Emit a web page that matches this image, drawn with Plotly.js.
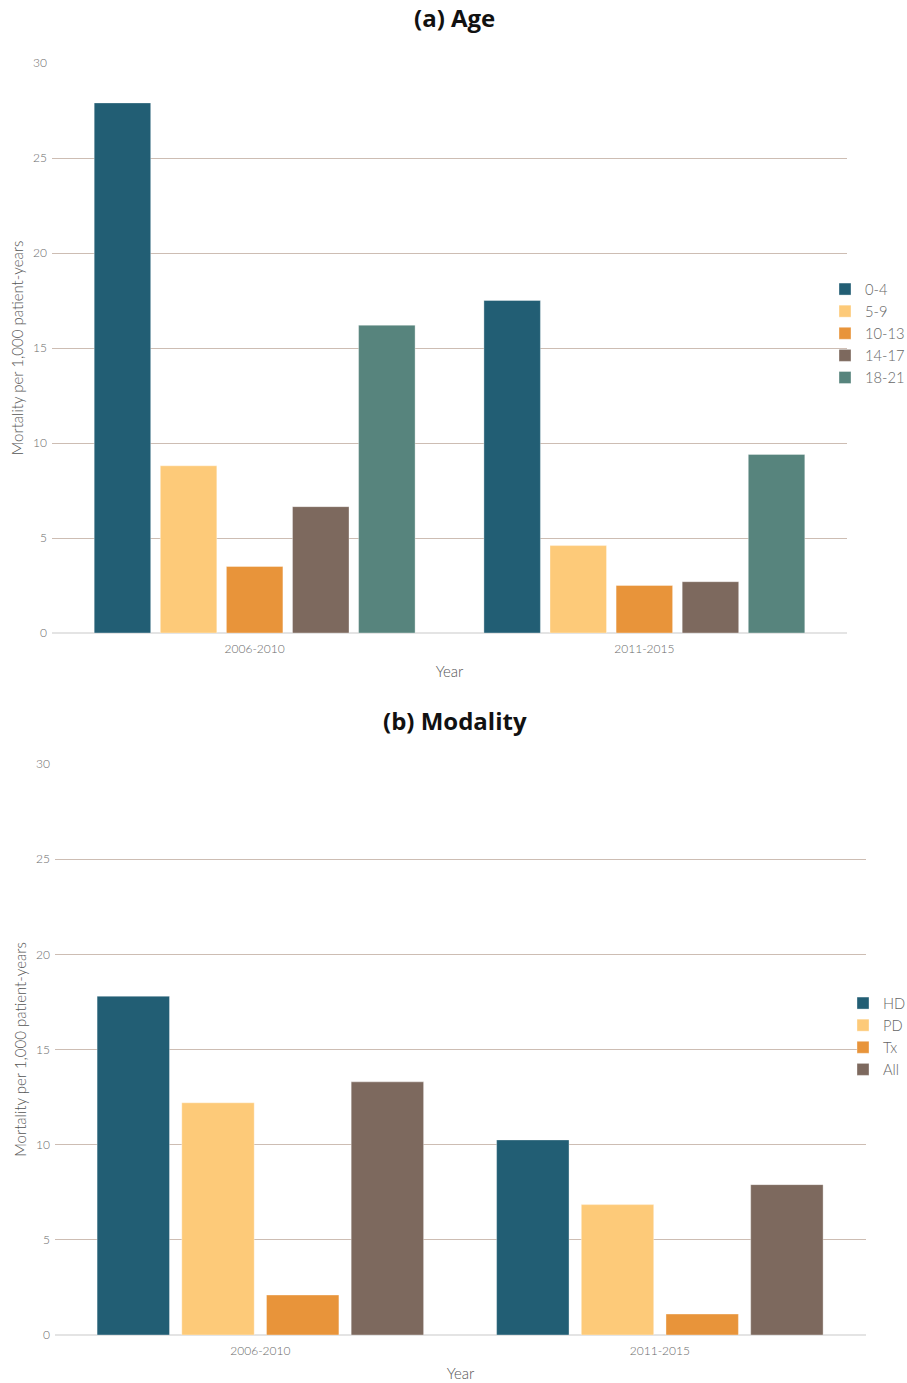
<!DOCTYPE html>
<html>
<head>
<meta charset="utf-8">
<script src="https://cdn.plot.ly/plotly-3.0.1.min.js"></script>
<style>html,body{margin:0;padding:0;background:#fff;}#chart{width:907px;height:1383px;}</style>
</head>
<body>
<div id="chart"></div>
<script>
// ---- data ----
const years = ["2006-2010", "2011-2015"];

const ageGroups = ["0-4", "5-9", "10-13", "14-17", "18-21"];
const age_0_4   = [27.9, 17.5];
const age_5_9   = [8.8, 4.6];
const age_10_13 = [3.5, 2.5];
const age_14_17 = [6.65, 2.7];
const age_18_21 = [16.2, 9.4];

const modalities = ["HD", "PD", "Tx", "All"];
const mod_HD  = [17.8, 10.25];
const mod_PD  = [12.2, 6.85];
const mod_Tx  = [2.1, 1.1];
const mod_All = [13.3, 7.9];

const titleA = "(a) Age";
const titleB = "(b) Modality";
const yTitle = "Mortality per 1,000 patient-years";
const xTitle = "Year";

// ---- styles ----
const colors = ["#225e74", "#fdca79", "#e8943a", "#7d695e", "#57847d"];
const H = 1383, W = 907;
const FAM = "Lato, 'Open Sans', sans-serif";
const tickFont = {family: FAM, size: 12, color: "#6a6a6a", weight: 300};
const axTitleFont = {family: FAM, size: 15, color: "#555", weight: 300};
const legFont = {family: FAM, size: 14.7, color: "#666", weight: 300};

const ageSeries = [age_0_4, age_5_9, age_10_13, age_14_17, age_18_21];
const modSeries = [mod_HD, mod_PD, mod_Tx, mod_All];

const traces = [];
ageGroups.forEach((name, i) => {
  traces.push({
    type: "bar", name: name, x: years, y: ageSeries[i],
    xaxis: "x", yaxis: "y", legend: "legend",
    marker: {color: colors[i], line: {color: "rgba(255,255,255,0.35)", width: 1}},
    hoverinfo: "x+y+name"
  });
});
modalities.forEach((name, i) => {
  traces.push({
    type: "bar", name: name, x: years, y: modSeries[i],
    xaxis: "x2", yaxis: "y2", legend: "legend2",
    marker: {color: colors[i], line: {color: "rgba(255,255,255,0.35)", width: 1}},
    hoverinfo: "x+y+name"
  });
});

function yAx(domain, anchor) {
  return {
    domain: domain, range: [0, 30], dtick: 5, tick0: 0, anchor: anchor,
    showgrid: true, gridcolor: "#cdbdb3", gridwidth: 1,
    zeroline: true, zerolinecolor: "#e4e4e4", zerolinewidth: 2,
    showline: false, ticks: "", tickfont: tickFont, ticklabelstandoff: 4,
    title: {text: yTitle, font: axTitleFont, standoff: 5},
    automargin: false, fixedrange: true
  };
}
function xAx(domain, range, anchor) {
  return {
    domain: domain, range: range, type: "category", anchor: anchor,
    showgrid: false, zeroline: false, showline: false, ticks: "",
    tickfont: tickFont, ticklabelstandoff: 7,
    title: {text: xTitle, font: axTitleFont, standoff: 11},
    automargin: false, fixedrange: true
  };
}

const layout = {
  width: W, height: H,
  margin: {l: 0, r: 0, t: 0, b: 0, autoexpand: false},
  paper_bgcolor: "#fff", plot_bgcolor: "#fff",
  font: {family: FAM, color: "#555"},
  barmode: "group", bargap: 0.152, bargroupgap: 0.145,
  showlegend: true,
  xaxis:  xAx([52 / W, 847 / W], [-0.52, 1.52], "y"),
  yaxis:  yAx([(H - 633) / H, (H - 63) / H], "x"),
  xaxis2: xAx([55 / W, 866 / W], [-0.514, 1.516], "y2"),
  yaxis2: yAx([(H - 1335) / H, (H - 764) / H], "x2"),
  legend: {
    x: 825 / W, xanchor: "left", y: (H - 273) / H, yanchor: "top",
    font: legFont, bgcolor: "rgba(0,0,0,0)", tracegroupgap: 0
  },
  legend2: {
    x: 843 / W, xanchor: "left", y: (H - 987) / H, yanchor: "top",
    font: legFont, bgcolor: "rgba(0,0,0,0)", tracegroupgap: 0
  },
  annotations: [
    {text: titleA, xref: "paper", yref: "paper", x: 455 / W, y: (H - 18) / H,
     xanchor: "center", yanchor: "middle", showarrow: false,
     font: {family: "'Open Sans', sans-serif", size: 24, color: "#111", weight: 700}},
    {text: titleB, xref: "paper", yref: "paper", x: 455 / W, y: (H - 720) / H,
     xanchor: "center", yanchor: "middle", showarrow: false,
     font: {family: "'Open Sans', sans-serif", size: 24, color: "#111", weight: 700}}
  ]
};

Plotly.newPlot("chart", traces, layout, {displayModeBar: false, responsive: false});
</script>
</body>
</html>
